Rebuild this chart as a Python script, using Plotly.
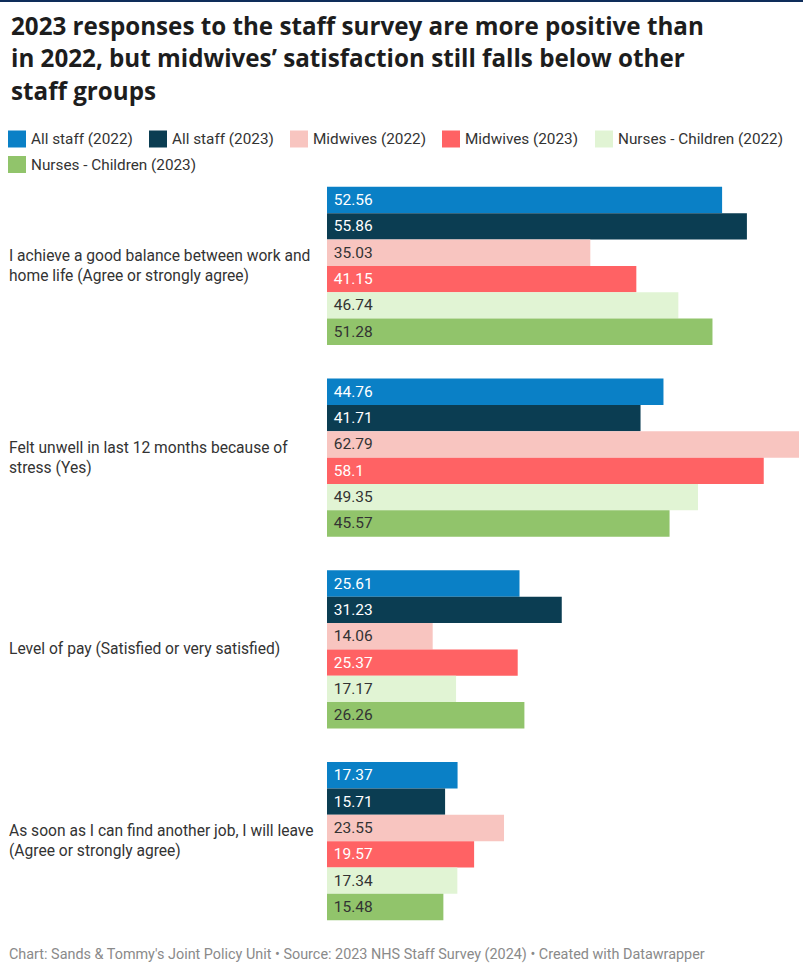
import plotly.graph_objects as go

# Survey statements (one group of bars each)
categories = [
    "I achieve a good balance between work and<br>home life (Agree or strongly agree)",
    "Felt unwell in last 12 months because of<br>stress (Yes)",
    "Level of pay (Satisfied or very satisfied)",
    "As soon as I can find another job, I will leave<br>(Agree or strongly agree)",
]

# Percentage of respondents per staff group and year
all_staff_2022 = [52.56, 44.76, 25.61, 17.37]
all_staff_2023 = [55.86, 41.71, 31.23, 15.71]
midwives_2022 = [35.03, 62.79, 14.06, 23.55]
midwives_2023 = [41.15, 58.1, 25.37, 19.57]
nurses_children_2022 = [46.74, 49.35, 17.17, 17.34]
nurses_children_2023 = [51.28, 45.57, 26.26, 15.48]

series_names = [
    "All staff (2022)", "All staff (2023)", "Midwives (2022)",
    "Midwives (2023)", "Nurses - Children (2022)", "Nurses - Children (2023)",
]
series_values = [
    all_staff_2022, all_staff_2023, midwives_2022,
    midwives_2023, nurses_children_2022, nurses_children_2023,
]
colors = ["#0a80c6", "#0b3d52", "#f8c5c0", "#ff6264", "#e1f4d4", "#91c46b"]
label_colors = ["#ffffff", "#ffffff", "#333333", "#ffffff", "#333333", "#333333"]

W, H = 803, 970
L, R, T, B = 327, 4, 170, 33
PW, PH = W - L - R, H - T - B


def px_x(x):
    return (x - L) / PW


def px_y(y):
    return (H - B - y) / PH


fig = go.Figure()
for name, vals, col, tcol in zip(series_names, series_values, colors, label_colors):
    fig.add_trace(go.Bar(
        y=categories, x=vals, name=name, orientation="h",
        marker=dict(color=col, line=dict(width=0)),
        text=vals, texttemplate="\u00a0%{x}",
        textposition="inside", insidetextanchor="start",
        textfont=dict(family="Roboto", size=15.5, color=tcol),
        constraintext="none", showlegend=False,
    ))

annotations = []
shapes = []

# Headline
title_lines = [
    "2023 responses to the staff survey are more positive than",
    "in 2022, but midwives\u2019 satisfaction still falls below other",
    "staff groups",
]
for i, line in enumerate(title_lines):
    annotations.append(dict(
        text=f"<b>{line}</b>", xref="paper", yref="paper",
        x=px_x(9), y=px_y(26 + 32 * i), xanchor="left", yanchor="middle",
        showarrow=False, font=dict(family="Open Sans", size=24.2, color="#1d1d1d"),
    ))

# Top rule
shapes.append(dict(type="rect", xref="paper", yref="paper",
                   x0=px_x(0), x1=px_x(W), y0=px_y(0), y1=px_y(2),
                   fillcolor="#0e2d5a", line=dict(width=0), layer="above"))

# Legend swatches and labels
legend_pos = [(8, 139), (149, 139), (290, 139), (442, 139), (595, 139), (8, 164.5)]
for (lx, ly), name, col in zip(legend_pos, series_names, colors):
    shapes.append(dict(type="rect", xref="paper", yref="paper",
                       x0=px_x(lx), x1=px_x(lx + 18), y0=px_y(ly - 8.5), y1=px_y(ly + 8.5),
                       fillcolor=col, line=dict(width=0)))
    annotations.append(dict(
        text=name, xref="paper", yref="paper", x=px_x(lx + 21), y=px_y(ly),
        xanchor="left", yanchor="middle", showarrow=False,
        font=dict(family="Roboto", size=15.3, color="#333333"),
    ))

# Category labels on the left
for cat in categories:
    annotations.append(dict(
        text=cat, xref="paper", yref="y", x=px_x(7), y=cat,
        xanchor="left", yanchor="middle", align="left", showarrow=False,
        font=dict(family="Roboto", size=15.6, color="#333333"),
    ))

# Footer
annotations.append(dict(
    text="Chart: Sands & Tommy's Joint Policy Unit \u2022 Source: 2023 NHS Staff Survey (2024) \u2022 Created with Datawrapper",
    xref="paper", yref="paper", x=px_x(7), y=px_y(955),
    xanchor="left", yanchor="middle", showarrow=False,
    font=dict(family="Roboto", size=14.4, color="#8a8a8a"),
))

fig.update_layout(
    width=W, height=H,
    margin=dict(l=L, r=R, t=T, b=B),
    paper_bgcolor="white", plot_bgcolor="white",
    barmode="group", bargap=0.176, bargroupgap=0,
    xaxis=dict(range=[0, 62.79], visible=False, fixedrange=True),
    yaxis=dict(autorange="reversed", showticklabels=False, showgrid=False,
               zeroline=False, showline=False, ticks=""),
    annotations=annotations, shapes=shapes,
    showlegend=False,
)

fig.write_html("out.html")
